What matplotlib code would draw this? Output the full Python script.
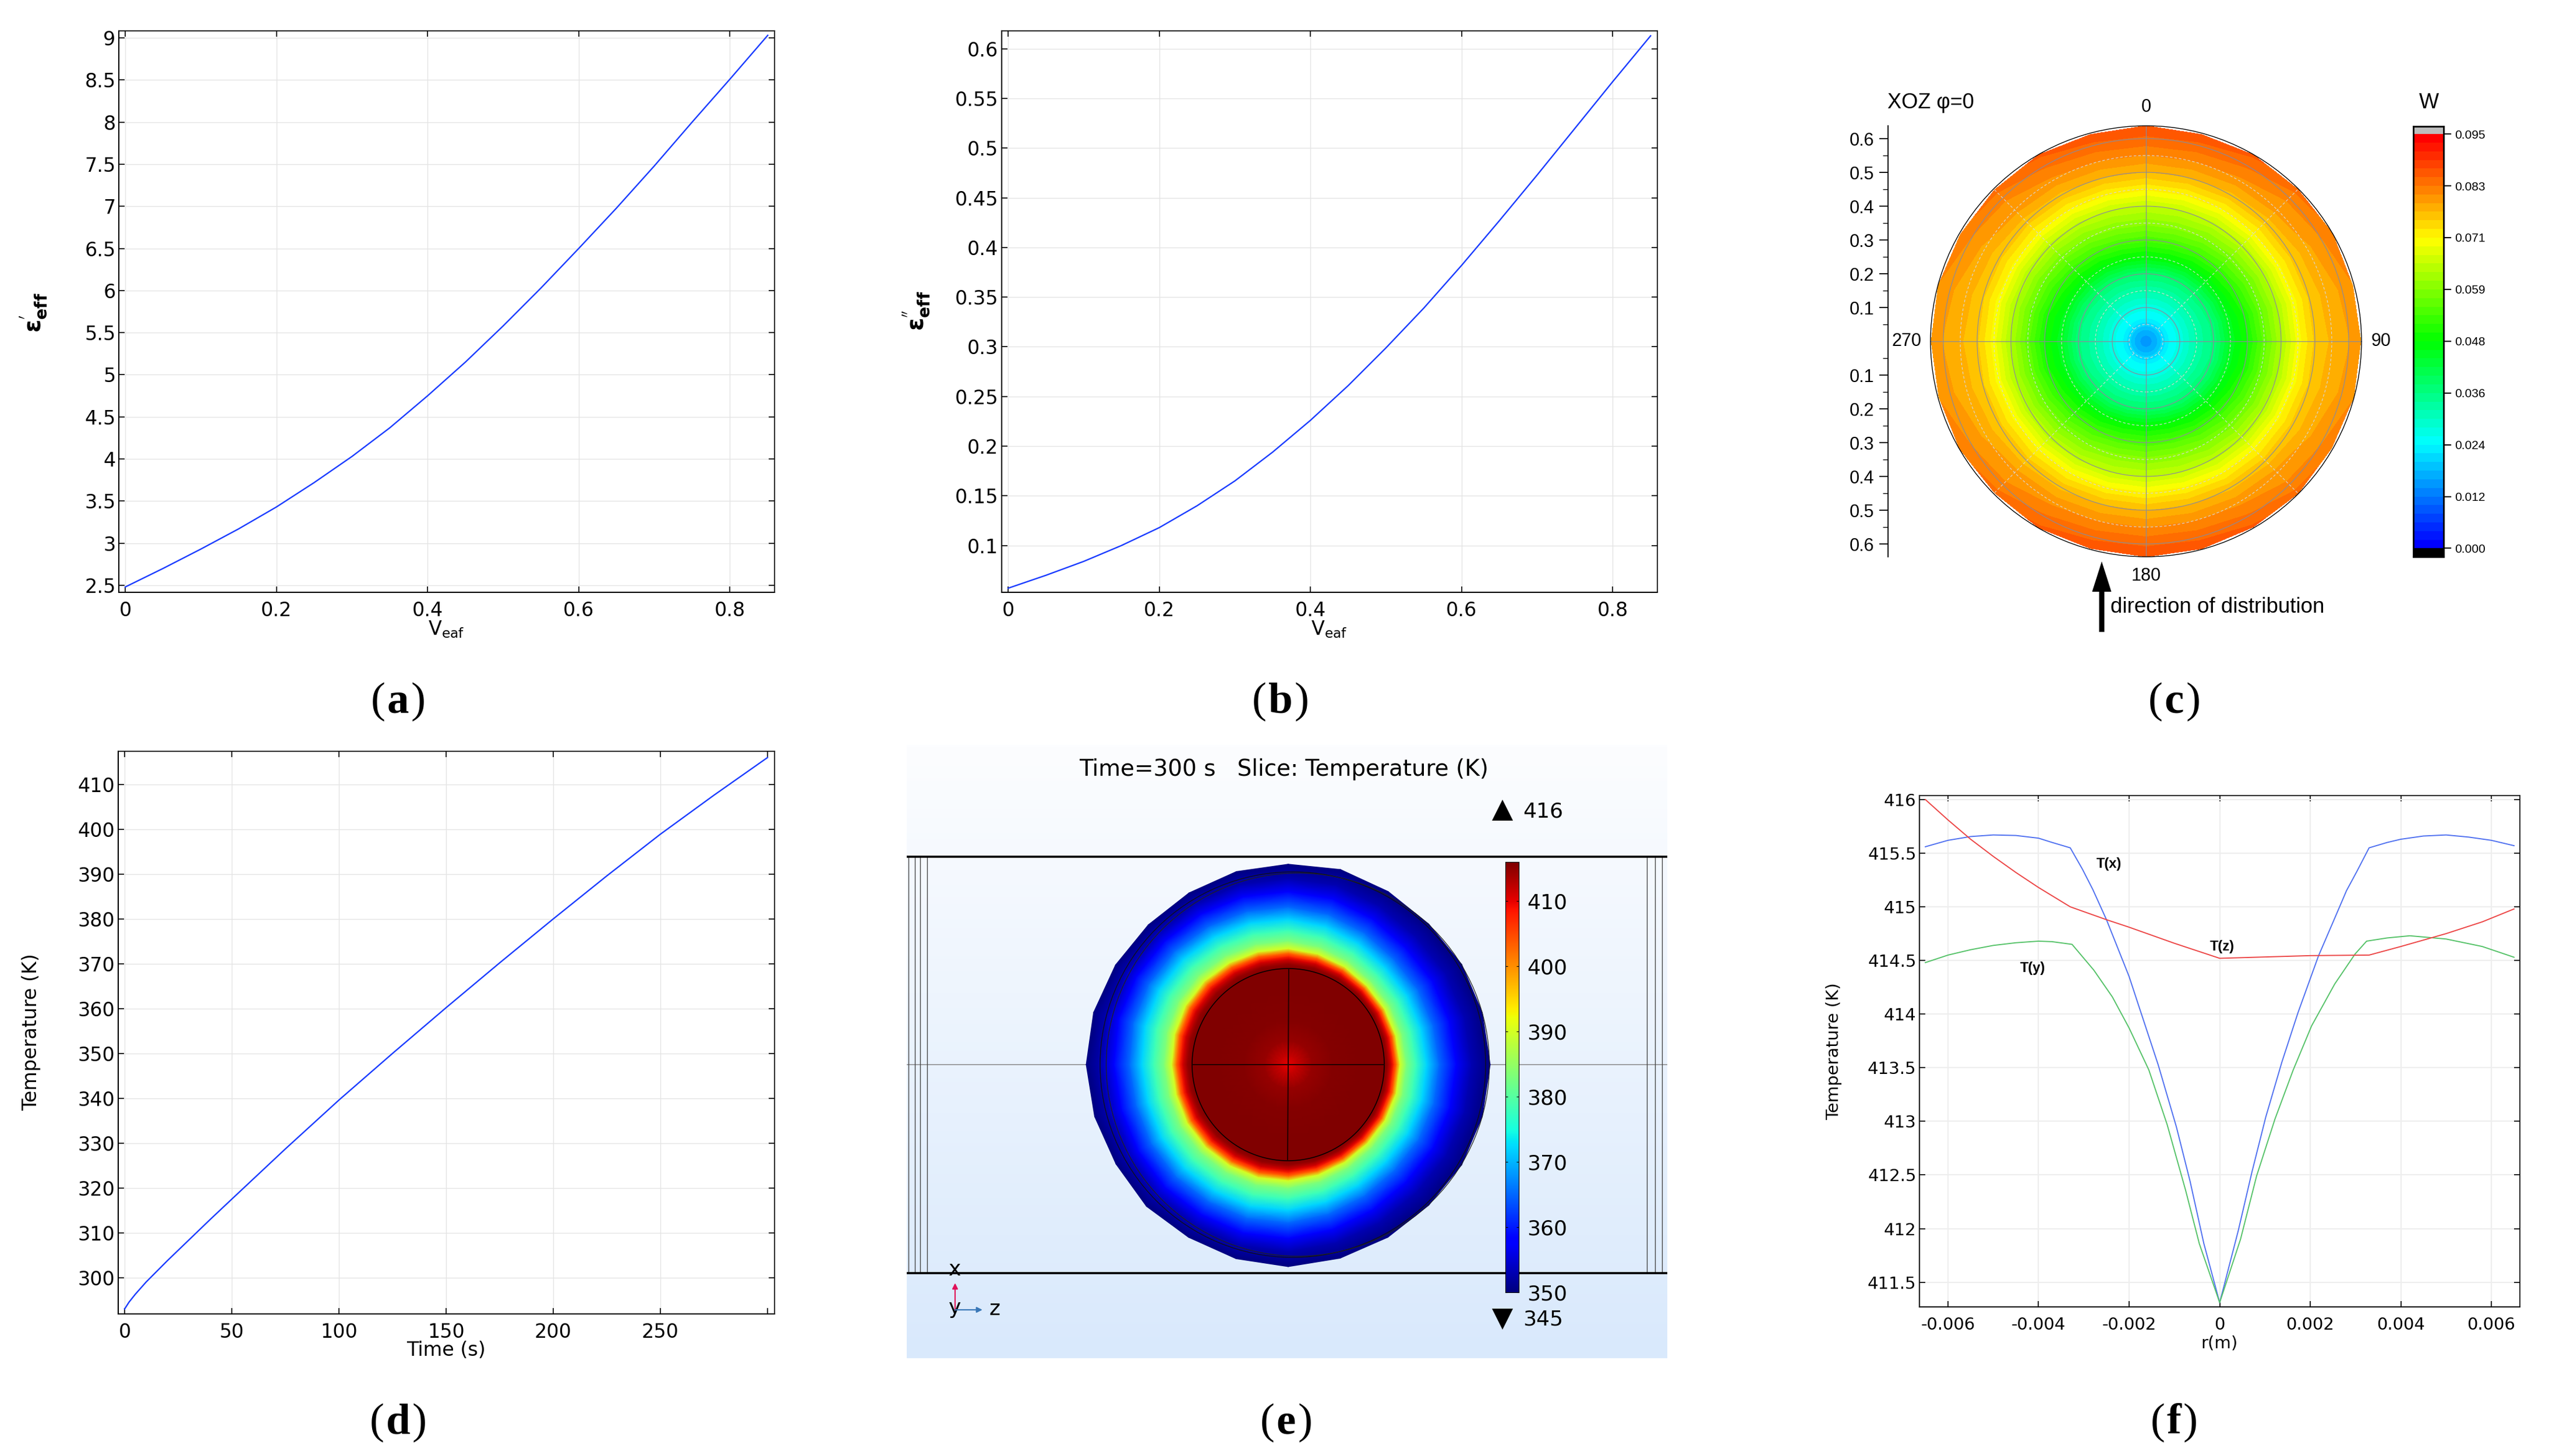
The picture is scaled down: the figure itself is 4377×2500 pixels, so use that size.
import numpy as np
import matplotlib
matplotlib.use("Agg")
import matplotlib.pyplot as plt
from matplotlib.colors import LinearSegmentedColormap, BoundaryNorm
from matplotlib.patches import Circle

# ---------- data ----------
veaf = [0, .05, .1, .15, .2, .25, .3, .35, .4, .45, .5, .55, .6, .65, .7, .75, .8, .85]
eps_real = [2.48, 2.70, 2.93, 3.17, 3.43, 3.72, 4.03, 4.37, 4.75, 5.15, 5.58, 6.03, 6.50, 6.98, 7.48, 8.0, 8.51, 9.03]
eps_imag = [.057, .070, .084, .100, .118, .140, .165, .194, .226, .261, .299, .339, .382, .427, .473, .520, .567, .613]

time_s = [0, 2, 5, 10, 20, 30, 40, 50, 75, 100, 125, 150, 175, 200, 225, 250, 275, 300]
temp_t = [293, 294.5, 296.3, 299, 303.8, 308.4, 313, 317.5, 328.7, 339.6, 350, 360.2, 370.2, 380, 389.6, 398.9, 407.6, 416]

rx = [-.0065, -.006, -.0055, -.005, -.0045, -.004, -.0037, -.0033, -.00303, -.0028, -.0025, -.002, -.00179, -.00136,
      -.000957, -.000653, -.000349, 0, .00041, .000714, .001018, .001372, .001727, .00218, .002628, .0028, .00303,
      .0033, .0037, .004, .0045, .005, .0055, .006, .0065]
tx = [415.56, 415.62, 415.655, 415.67, 415.665, 415.64, 415.60, 415.55, 415.35, 415.16, 414.88, 414.35, 414.08, 413.53,
      412.95, 412.44, 411.86, 411.31, 411.98, 412.53, 413.04, 413.55, 414.01, 414.54, 414.98, 415.15, 415.33,
      415.55, 415.60, 415.63, 415.66, 415.67, 415.65, 415.62, 415.57]
ry = [-.0065, -.006, -.0055, -.005, -.0045, -.004, -.0037, -.00326, -.00278, -.00237, -.002, -.001565, -.00116,
      -.000754, -.00045, 0, .00046, .000815, .00122, .001625, .00203, .00254, .00299, .003245, .0037, .0042, .005,
      .0058, .0065]
ty = [414.48, 414.55, 414.60, 414.64, 414.665, 414.68, 414.675, 414.65, 414.41, 414.16, 413.87, 413.48, 412.97,
      412.36, 411.86, 411.31, 411.90, 412.49, 413.02, 413.48, 413.89, 414.28, 414.56, 414.68, 414.71, 414.73, 414.70,
      414.63, 414.53]
rz = [-.0065, -.006, -.0055, -.005, -.0045, -.004, -.0033, -.0025, -.002, -.001, 0, .002, .0033, .004, .005, .0058, .0065]
tz = [416.0, 415.81, 415.63, 415.47, 415.32, 415.18, 415.0, 414.88, 414.81, 414.66, 414.52, 414.545, 414.55, 414.63,
      414.75, 414.86, 414.98]

# panel c: absorbed power W against radius; inner rings are round,
# outer rings are tabulated from 0 deg (top) to 90 deg (side) in 15 deg steps
c_r_inner = [0, .03, .05, .07, .1, .15]
c_w_inner = [.0142, .017, .0206, .024, .0264, .032]
c_r_outer = [.2, .25, .3, .35, .4, .45, .5, .55, .6]
c_w_outer = [
    [.0377, .047, .054, .060, .065, .0715, .077, .081, .0847],
    [.0375, .047, .054, .060, .065, .0715, .077, .081, .0845],
    [.0372, .046, .053, .059, .0645, .071, .0765, .0805, .0835],
    [.0370, .0455, .052, .058, .064, .0708, .076, .080, .0815],
    [.0365, .045, .051, .057, .0635, .0705, .0758, .0785, .0810],
    [.0360, .0445, .0495, .0565, .063, .070, .0755, .078, .0795],
    [.0360, .044, .049, .056, .063, .070, .0755, .0775, .079],
]
c_w_rim = [.0866, .0865, .0855, .084, .0825, .081, .0805]
c_rim = [.638, .634, .637, .636, .638, .634, .636, .637, .634, .637, .635, .636, .638,
         .635, .637, .634, .637, .635, .636, .637, .634, .634, .637, .634]
c_ticks = [0, .011875, .02375, .035625, .0475, .059375, .07125, .083125, .095]
c_tick_labels = ["0.000", "0.012", "0.024", "0.036", "0.048", "0.059", "0.071", "0.083", "0.095"]
c_radial = [.1, .2, .3, .4, .5, .6]

# panel e: temperature against radius in the slice (mm)
e_r = [0, .3, .8, 1.5, 2.5, 3.25, 3.4, 3.55, 3.65, 3.76, 3.9, 4.15, 4.5, 4.88, 5.3, 5.84, 6.3, 6.83]
e_t = [410, 412, 414.5, 415.5, 416, 416, 414.5, 411, 407, 402, 390, 383, 378, 372, 365, 358, 353, 350]
# radial scale per 15 deg from the top, clockwise: hot ring and outer rim
e_ring = [1.05, .95, .85, .75, .75, .75, .78, .78, .78, .78, .85, .95,
          1.05, 1.1, 1.1, 1.1, 1.1, 1.05, 1.08, 1.15, 1.2, 1.2, 1.15, 1.1]
e_rim = [.985, 1.0, .98, .97, .985, .99, 1.0, .99, .985, .97, .975, .985, 1.0,
         .99, .975, .985, .97, .985, 1.0, .995, .975, .96, .965, .98]
e_ticks = [350, 360, 370, 380, 390, 400, 410]

PANELS = ["a", "b", "c", "d", "e", "f"]

# ---------- layout helpers ----------
W, H = 4377, 2500
fig = plt.figure(figsize=(W / 100, H / 100), dpi=100, facecolor="white")


def axpx(x0, y0, x1, y1, **kw):
    return fig.add_axes([x0 / W, 1 - y1 / H, (x1 - x0) / W, (y1 - y0) / H], **kw)


pxa = axpx(0, 0, W, H, zorder=20)
pxa.set_xlim(0, W)
pxa.set_ylim(H, 0)
pxa.axis("off")
pxa.patch.set_alpha(0)

BLUE = "#1a3cff"
GRID = "#e4e4e4"


def comsol(ax, xlim, ylim, xticks, yticks, xl, yl, xlpos, ylpos, tick_fs=24, xfs=24, yfs=24,
           pad=10.5, gridc=GRID, gridw=1.0, yweight="normal"):
    ax.set_xlim(*xlim)
    ax.set_ylim(*ylim)
    ax.set_xticks(xticks)
    ax.set_yticks(yticks)
    ax.set_xticklabels([f"{v:g}" for v in xticks])
    ax.set_yticklabels([f"{v:g}" for v in yticks])
    ax.tick_params(axis="x", direction="in", length=7.2, width=1.2, top=True, labelsize=tick_fs, pad=pad)
    ax.tick_params(axis="y", direction="in", length=7.2, width=1.2, right=True, labelsize=tick_fs, pad=4)
    ax.grid(True, color=gridc, lw=gridw)
    ax.set_axisbelow(True)
    for s in ax.spines.values():
        s.set_linewidth(1.2)
    ax.spines["left"].set_linewidth(1.5)
    ax.spines["bottom"].set_linewidth(1.5)
    ax.set_xlabel(xl, fontsize=xfs, va="center", ha="center")
    ax.set_ylabel(yl, fontsize=yfs, va="center", ha="center", rotation=90, fontweight=yweight)
    ax.xaxis.set_label_coords(*xlpos, transform=pxa.transData)
    ax.yaxis.set_label_coords(*ylpos, transform=pxa.transData)


# ---------- (a) ----------
axa = axpx(204, 53, 1330, 1017)
axa.plot(veaf, eps_real, color=BLUE, lw=1.7)
comsol(axa, (-.0085, .859), (2.417, 9.083), [0, .2, .4, .6, .8], np.arange(2.5, 9.01, .5),
       r"V$_{\mathregular{eaf}}$", "\u03b5$^{'}_{\\mathregular{eff}}$", (766, 1081), (58, 537),
       yfs=29, yweight="bold")

# ---------- (b) ----------
axb = axpx(1720, 53, 2846, 1017)
axb.plot(veaf, eps_imag, color=BLUE, lw=1.7)
comsol(axb, (-.0085, .859), (.0529, .618), [0, .2, .4, .6, .8], np.arange(.1, .601, .05),
       r"V$_{\mathregular{eaf}}$", "\u03b5$^{''}_{\\mathregular{eff}}$", (2282, 1081), (1574, 534),
       yfs=29, yweight="bold")

# ---------- (d) ----------
axd = axpx(203, 1290, 1330, 2256)
axd.plot(time_s, temp_t, color=BLUE, lw=1.7)
comsol(axd, (-3, 303.3), (291.9, 417.4), [0, 50, 100, 150, 200, 250], np.arange(300, 411, 10),
       "Time (s)", "Temperature (K)", (766, 2318), (54, 1772))
axd.set_xticks([300], minor=True)
axd.tick_params(axis="x", which="minor", direction="in", length=7.2, width=1.2, top=True)

# ---------- (f) ----------
axf = axpx(3296, 1365.5, 4327, 2244)
axf.plot(rx, tx, color="#4f70f0", lw=1.4)
axf.plot(ry, ty, color="#55c268", lw=1.4)
axf.plot(rz, tz, color="#ec4545", lw=1.4)
comsol(axf, (-.00663, .00663), (411.27, 416.04), [-.006, -.004, -.002, 0, .002, .004, .006],
       np.arange(411.5, 416.01, .5), "r(m)", "Temperature (K)", (3811, 2306), (3149, 1805),
       tick_fs=21, xfs=21, yfs=21, pad=12, gridc="#eeeeee", gridw=1.6)
for lab, xv, yv in [("T(x)", -.00244, 415.40), ("T(y)", -.004126, 414.43), ("T(z)", .00005, 414.63)]:
    axf.text(xv, yv, lab, fontsize=17, ha="center", va="center", family="Liberation Sans", fontweight="bold")

# ---------- (c) ----------
UNIT = 580.0  # px per radial unit
cx, cy = 3685, 586
rim_lim = 370 / UNIT
axc = axpx(3241.5, cy - 370, cx + 420, cy + 370)
axc.set_xlim((3241.5 - cx) / UNIT, 420 / UNIT)
axc.set_ylim(-rim_lim, rim_lim)
axc.patch.set_alpha(0)
for k in ["top", "right", "bottom"]:
    axc.spines[k].set_visible(False)
axc.spines["left"].set_linewidth(1.3)
axc.set_xticks([])
major = [s * v for v in c_radial for s in (1, -1)]
axc.set_yticks(major)
axc.set_yticklabels([f"{abs(v):.1f}" for v in major], family="Liberation Sans", fontsize=22)
axc.set_yticks([s * (v - .05) for v in c_radial for s in (1, -1)], minor=True)
axc.tick_params(axis="y", which="major", direction="out", length=11, width=1.3, pad=6)
axc.tick_params(axis="y", which="minor", direction="out", length=6.5, width=1.0)

cmap_c = LinearSegmentedColormap.from_list("w", ["#0000ff", "#00ffff", "#00ff00", "#ffff00", "#ff0000"], N=48)
levels_c = np.linspace(0, .095, 49)
norm_c = BoundaryNorm(levels_c, 48)

q = list(range(7)) + list(range(5, -1, -1)) + list(range(1, 7)) + list(range(5, -1, -1))
theta_c = np.radians(np.arange(0, 361, 15))
rim_c = np.array(c_rim + c_rim[:1])
radii = np.array(c_r_inner + c_r_outer)
R_c = np.zeros((len(theta_c), len(radii) + 1))
Z_c = np.zeros_like(R_c)
for i, idx in enumerate(q):
    R_c[i, :-1] = radii
    R_c[i, -1] = rim_c[i]
    Z_c[i] = list(c_w_inner) + list(c_w_outer[idx]) + [c_w_rim[idx]]
X_c = R_c * np.sin(theta_c)[:, None]
Y_c = R_c * np.cos(theta_c)[:, None]
axc.contourf(X_c, Y_c, Z_c, levels=levels_c, cmap=cmap_c, norm=norm_c)
axc.contourf(X_c, Y_c, Z_c, levels=levels_c, cmap=cmap_c, norm=norm_c)

GL = "#8a8a9a"
for v in c_radial:
    axc.add_patch(Circle((0, 0), v, fill=False, ec=GL, lw=.85))
    axc.add_patch(Circle((0, 0), v - .05, fill=False, ec="#d8d8d8", lw=.8, ls=(0, (4, 3))))
for sx, sy in [(1, 0), (-1, 0), (0, 1), (0, -1)]:
    axc.plot([sx * .05, sx * rim_lim], [sy * .05, sy * rim_lim], color=GL, lw=.85)
dg = np.sqrt(.5)
for sx, sy in [(1, 1), (1, -1), (-1, 1), (-1, -1)]:
    axc.plot([sx * .05 * dg, sx * rim_lim * dg], [sy * .05 * dg, sy * rim_lim * dg],
             color="#d8d8d8", lw=.8, ls=(0, (4, 3)))
axc.add_patch(Circle((0, 0), rim_lim, fill=False, ec="black", lw=1.0, clip_on=False, zorder=6))

# colour bar of (c)
axcb = axpx(4144, 217, 4196, 955.5)
bar_vals = (levels_c[:-1] + levels_c[1:]) / 2
axcb.set_xlim(0, 1)
axcb.set_ylim(-.00187, .09675)
axcb.pcolormesh([0, 1], levels_c, bar_vals[:, None], cmap=cmap_c, norm=norm_c)
axcb.axhspan(.095, .09675, color="#bdbdbd", lw=0)
axcb.axhspan(-.00187, 0, color="black", lw=0)
axcb.set_xticks([])
axcb.yaxis.tick_right()
axcb.set_yticks(c_ticks)
axcb.set_yticklabels(c_tick_labels, family="Liberation Sans", fontsize=15)
axcb.tick_params(axis="y", direction="out", length=9, width=1.5, pad=5)
for s in axcb.spines.values():
    s.set_linewidth(2)

LS = "Liberation Sans"
pxa.text(3241, 176, "XOZ \u03c6=0", family=LS, fontsize=26, ha="left", va="center")
pxa.text(4171, 176, "W", family=LS, fontsize=26, ha="center", va="center")
pxa.text(3685, 184, "0", family=LS, fontsize=22, ha="center", va="center")
pxa.text(3685, 989, "180", family=LS, fontsize=22, ha="center", va="center")
pxa.text(3274, 586, "270", family=LS, fontsize=22, ha="center", va="center")
pxa.text(4089, 586, "90", family=LS, fontsize=22, ha="center", va="center")
pxa.arrow(3609, 1085, 0, -121, width=9, head_width=33, head_length=52, length_includes_head=True,
          color="black", lw=0)
pxa.text(3623.5, 1043, "direction of distribution", family=LS, fontsize=26.5, ha="left", va="center")

# ---------- (e) ----------
MM = 50.8
ex, ey = 2212, 1828
axe = axpx(1557, 1279, 2863, 2332)
xl_e = ((1557 - ex) / MM, (2863 - ex) / MM)
yl_e = ((ey - 2332) / MM, (ey - 1279) / MM)
bg = LinearSegmentedColormap.from_list("bg", ["#fcfdff", "#d9e9fc"])
axe.imshow(np.linspace(0, 1, 200)[:, None], cmap=bg, aspect="auto",
           extent=(xl_e[0], xl_e[1], yl_e[0], yl_e[1]), origin="upper", zorder=0)
axe.set_xlim(*xl_e)
axe.set_ylim(*yl_e)
axe.axis("off")
theta_e = np.radians(np.arange(0, 361, 15))
r_e = np.array(e_r)
ring = np.array(e_ring + e_ring[:1])[:, None]
rim_e = np.array(e_rim + e_rim[:1])[:, None]
weight = np.clip((r_e - 3.25) / (6.83 - 3.25), 0, 1)[None, :]
scale = ring * (1 - weight) + rim_e * weight
R_e = np.where(r_e[None, :] <= 3.25, r_e[None, :], 3.25 + (r_e[None, :] - 3.25) * scale)
X_e = R_e * np.sin(theta_e)[:, None]
Y_e = R_e * np.cos(theta_e)[:, None]
T_e = np.tile(np.array(e_t, float), (len(theta_e), 1))
axe.pcolormesh(X_e, Y_e, T_e, cmap="jet", vmin=350, vmax=416, shading="gouraud", zorder=2)
inner = 165 / MM
axe.add_patch(Circle((0, 0), inner, fill=False, ec="black", lw=1.1, zorder=4))
axe.add_patch(Circle(((2220 - ex) / MM, 0), 331 / MM, fill=False, ec="#111111", lw=.9, zorder=4))
axe.add_patch(Circle(((2228.5 - ex) / MM, 0), 329 / MM, fill=False, ec="#222222", lw=.9, zorder=4))
axe.plot([-inner, inner], [0, 0], color="#220000", lw=1.4, zorder=4)
axe.plot([0.02, -0.02], [inner, -inner], color="#220000", lw=1.4, zorder=4)
axe.axhline(0, color="#888888", lw=1.1, zorder=1.5)
for yy in (1471, 2186):
    axe.axhline((ey - yy) / MM, color="black", lw=2.6, zorder=3)
for xx in (1560, 1571, 1580, 1592, 2828, 2842, 2854):
    axe.plot([(xx - ex) / MM] * 2, [(ey - 1471) / MM, (ey - 2186) / MM], color="#444444", lw=1.0, zorder=1.5)

axecb = axpx(2585, 1480, 2608, 2219)
axecb.imshow(np.linspace(416, 350, 256)[:, None], cmap="jet", vmin=350, vmax=416, aspect="auto",
             extent=(0, 1, 350, 416))
axecb.set_xticks([])
axecb.yaxis.tick_right()
axecb.set_yticks(e_ticks)
axecb.set_yticklabels([str(v) for v in e_ticks], fontsize=26)
axecb.tick_params(axis="y", direction="in", length=3, width=.8, left=True, right=True, pad=10)
for s in axecb.spines.values():
    s.set_linewidth(.8)

pxa.text(2205, 1321, "Time=300 s   Slice: Temperature (K)", fontsize=28, ha="center", va="center")
pxa.plot([2580], [1391], marker="^", ms=26, color="black", mew=0)
pxa.plot([2580], [2265], marker="v", ms=26, color="black", mew=0)
pxa.text(2650, 1393, "416", fontsize=26, ha="center", va="center")
pxa.text(2650, 2265, "345", fontsize=26, ha="center", va="center")
pxa.text(1640, 2180, "x", fontsize=26, ha="center", va="center")
pxa.text(1640, 2246, "y", fontsize=26, ha="center", va="center")
pxa.text(1708, 2248, "z", fontsize=26, ha="center", va="center")
pxa.annotate("", xy=(1640, 2203), xytext=(1640, 2249),
             arrowprops=dict(arrowstyle="-|>", color="#e0105a", lw=1.6, mutation_scale=14, shrinkA=0, shrinkB=0))
pxa.annotate("", xy=(1687, 2249), xytext=(1640, 2249),
             arrowprops=dict(arrowstyle="-|>", color="#3a78b8", lw=1.6, mutation_scale=14, shrinkA=0, shrinkB=0))

# ---------- sub-figure captions ----------
fig.canvas.draw()
rend = fig.canvas.get_renderer()
SERIF = "Liberation Serif"
centres = {"a": (685, 1223), "b": (2200, 1223), "c": (3735, 1223),
           "d": (685, 2461), "e": (2210, 2461), "f": (3735, 2461)}
for p in PANELS:
    xc, yb = centres[p]
    parts = [("(", "normal"), (p, "bold"), (")", "normal")]
    widths = []
    for s, w in parts:
        t = pxa.text(0, 0, s, family=SERIF, fontsize=54, fontweight=w)
        widths.append(t.get_window_extent(rend).width + 3)
        t.remove()
    x = xc - sum(widths) / 2
    for (s, w), wd in zip(parts, widths):
        pxa.text(x, yb, s, family=SERIF, fontsize=54, fontweight=w, ha="left", va="baseline")
        x += wd

fig.savefig("out.png", dpi=100, facecolor="white")
